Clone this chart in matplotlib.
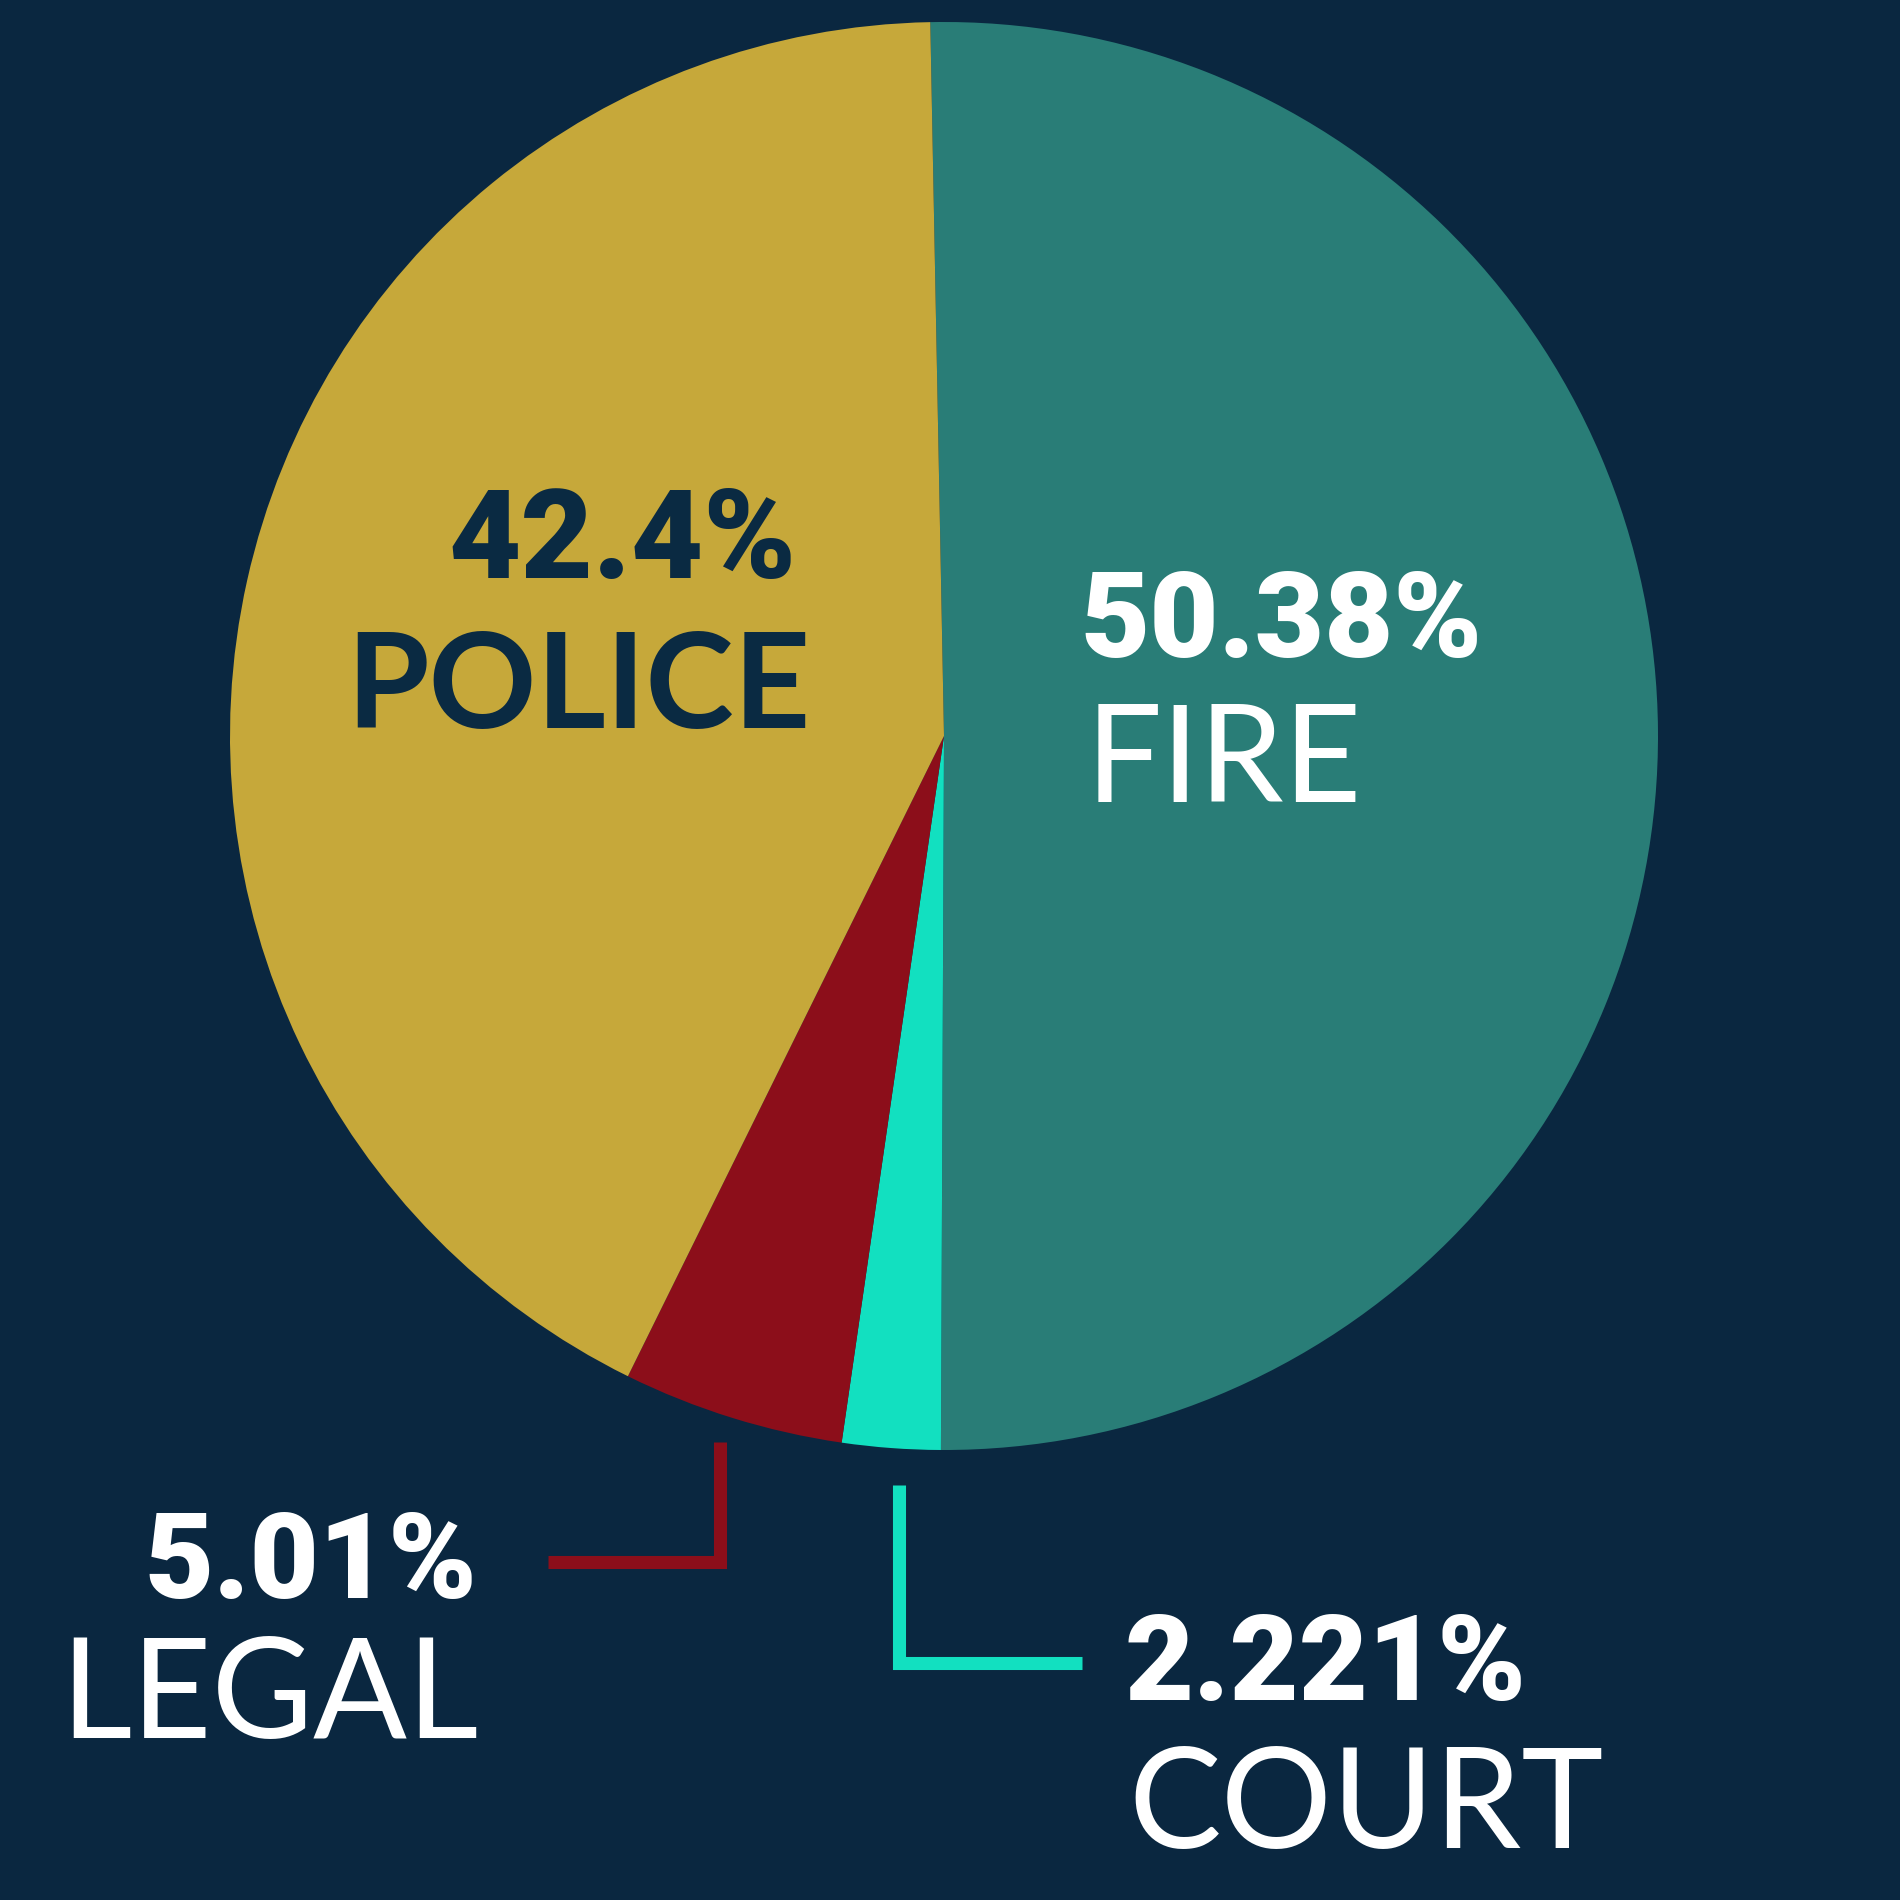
import matplotlib.pyplot as plt

# slice data, clockwise from the top
labels = ['FIRE', 'COURT', 'LEGAL', 'POLICE']
shares = [50.38, 2.221, 5.01, 42.4]
pct_text = ['50.38%', '2.221%', '5.01%', '42.4%']
colors = ['#297d77', '#12e0c0', '#8c0e1a', '#c6a83a']

bg = '#0a2740'
navy_text = '#0a2a42'

fig = plt.figure(figsize=(19, 19), dpi=100, facecolor=bg)
ax = fig.add_axes([0, 0, 1, 1])
ax.set_facecolor(bg)

H = 1900  # work in image pixels, y flipped
ax.pie(shares, colors=colors, startangle=91.1, counterclock=False,
       center=(944, H - 736), radius=714,
       wedgeprops=dict(linewidth=0, antialiased=True))
ax.set_xlim(0, 1900)
ax.set_ylim(0, 1900)
ax.set_aspect('equal')
ax.axis('off')

# label layout: (pct x, pct baseline, name x, name baseline, align, colour, pct size, name size, name weight)
layout = {
    'FIRE':   (1080, 657, 1086, 802, 'left', 'white', 86, 97, 'normal'),
    'COURT':  (1124, 1700, 1128, 1848, 'left', 'white', 86, 100, 'normal'),
    'LEGAL':  (477, 1598, 479, 1738, 'right', 'white', 86, 100, 'normal'),
    'POLICE': (448, 578, 346, 728, 'left', navy_text, 90, 96, 'bold'),
}

for name, pct in zip(labels, pct_text):
    px, py, nx, ny, ha, col, ps, ns, nw = layout[name]
    ax.text(px, H - py, pct, ha=ha, va='baseline', color=col,
            fontsize=ps, fontweight='black', family='Roboto')
    ax.text(nx, H - ny, name, ha=ha, va='baseline', color=col,
            fontsize=ns, fontweight=nw, family='Lato')

# leader lines for the two thin slices
ax.plot([548, 720, 720], [H - 1562, H - 1562, H - 1442], color=colors[2],
        lw=9.4, solid_capstyle='butt', solid_joinstyle='miter')
ax.plot([899, 899, 1082], [H - 1485, H - 1663, H - 1663], color=colors[1],
        lw=9.4, solid_capstyle='butt', solid_joinstyle='miter')

fig.savefig('out.png', dpi=100, facecolor=bg)
